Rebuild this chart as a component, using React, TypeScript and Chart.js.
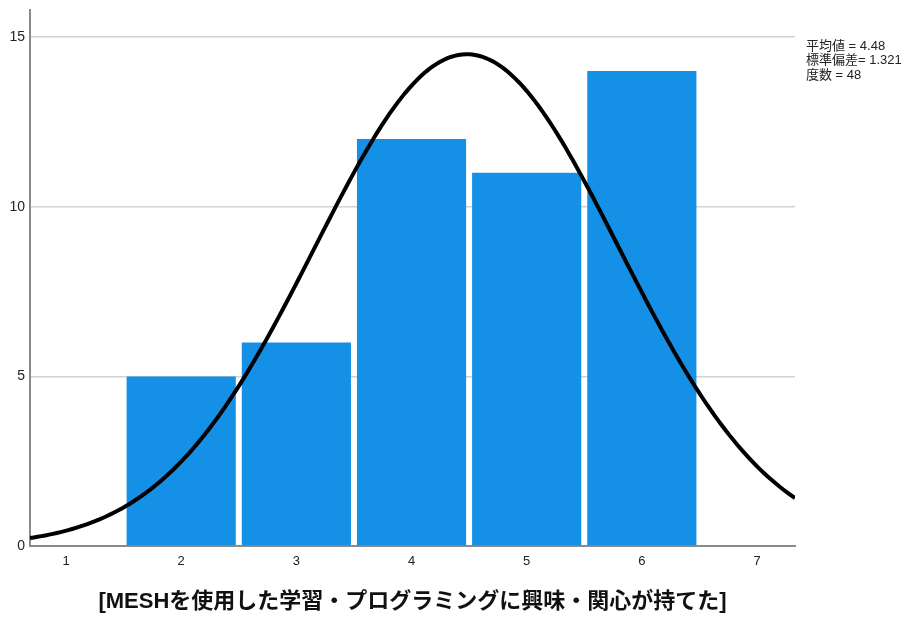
import React, { useEffect, useRef } from "react";
import { Chart, registerables } from "chart.js";

Chart.register(...registerables);

// Response scale values and their counts
const categories = [2, 3, 4, 5, 6];
const counts = [5, 6, 12, 11, 14];
const xTickValues = [1, 2, 3, 4, 5, 6, 7];
const yTickValues = [0, 5, 10, 15];

// Summary statistics shown beside the plot
const meanValue = 4.48;
const sdValue = 1.321;
const nValue = 48;
const statLines = ["平均値 = 4.48", "標準偏差= 1.321", "度数 = 48"];

const xTitle = "[MESHを使用した学習・プログラミングに興味・関心が持てた]";

const X_MIN = 0.687;
const X_MAX = 7.33;
const Y_MAX = 15.8;

// Fitted normal curve: N * binWidth * density(mean, sd)
function normalCurve(): { x: number; y: number }[] {
  const pts: { x: number; y: number }[] = [];
  const steps = 200;
  for (let i = 0; i <= steps; i++) {
    const x = X_MIN + ((X_MAX - X_MIN) * i) / steps;
    const z = (x - meanValue) / sdValue;
    const y = (nValue * 1) / (sdValue * Math.sqrt(2 * Math.PI)) * Math.exp(-0.5 * z * z);
    pts.push({ x, y });
  }
  return pts;
}

const statsPlugin = {
  id: "statsText",
  afterDraw(chart: any) {
    const ctx = chart.ctx;
    ctx.save();
    ctx.fillStyle = "#222";
    ctx.font = "13px 'Liberation Sans', Arial, 'Noto Sans CJK JP', sans-serif";
    ctx.textBaseline = "middle";
    ctx.textAlign = "left";
    statLines.forEach((t, i) => ctx.fillText(t, 806, 46 + i * 14.5));
    ctx.restore();
  },
};

export default function App() {
  const canvasRef = useRef<HTMLCanvasElement | null>(null);

  useEffect(() => {
    if (!canvasRef.current) return;
    const chart = new Chart(canvasRef.current, {
      type: "bar",
      data: {
        datasets: [
          {
            type: "line",
            data: normalCurve(),
            borderColor: "#000",
            borderWidth: 4,
            pointRadius: 0,
            tension: 0,
            fill: false,
            order: 0,
          } as any,
          {
            type: "bar",
            data: categories.map((c, i) => ({ x: c, y: counts[i] })),
            backgroundColor: "#1490E6",
            borderWidth: 0,
            barPercentage: 0.948,
            categoryPercentage: 1,
            order: 1,
          } as any,
        ],
      },
      options: {
        animation: false,
        responsive: false,
        maintainAspectRatio: false,
        layout: { padding: { left: 0, right: 116, top: 10, bottom: 0 } },
        plugins: {
          legend: { display: false },
          tooltip: { enabled: false },
        },
        scales: {
          x: {
            type: "linear",
            min: X_MIN,
            max: X_MAX,
            offset: false,
            afterBuildTicks: (scale: any) => {
              scale.ticks = xTickValues.map((v) => ({ value: v }));
            },
            afterFit: (scale: any) => {
              scale.height = 71;
              scale.paddingLeft = 0;
              scale.paddingRight = 0;
            },
            grid: { display: false, drawTicks: false },
            border: { display: true, color: "#8a8a8a", width: 2 },
            ticks: {
              color: "#222",
              font: { family: "'Liberation Sans', Arial, sans-serif", size: 13 },
              padding: 8,
              maxRotation: 0,
            },
            title: {
              display: true,
              text: xTitle,
              color: "#111",
              font: {
                family: "'Liberation Sans', Arial, 'Noto Sans CJK JP', sans-serif",
                size: 22,
                weight: "bold",
              },
              padding: { top: 0, bottom: 2 },
            },
          },
          y: {
            type: "linear",
            min: 0,
            max: Y_MAX,
            afterBuildTicks: (scale: any) => {
              scale.ticks = yTickValues.map((v) => ({ value: v }));
            },
            afterFit: (scale: any) => {
              scale.width = 30;
              scale.paddingTop = 0;
              scale.paddingBottom = 0;
            },
            grid: {
              color: (c: any) => (c.tick && c.tick.value === 0 ? "rgba(0,0,0,0)" : "#d2d2d2"),
              lineWidth: 1.5,
              drawTicks: false,
            },
            border: { display: true, color: "#8a8a8a", width: 2 },
            ticks: {
              color: "#222",
              font: { family: "'Liberation Sans', Arial, sans-serif", size: 14 },
              padding: 5,
            },
          },
        },
      },
      plugins: [statsPlugin],
    });
    return () => chart.destroy();
  }, []);

  return (
    <div style={{ position: "fixed", left: 0, top: 0, width: 911, height: 617, background: "#fff" }}>
      <canvas ref={canvasRef} width={911} height={617} style={{ width: 911, height: 617 }} />
    </div>
  );
}
